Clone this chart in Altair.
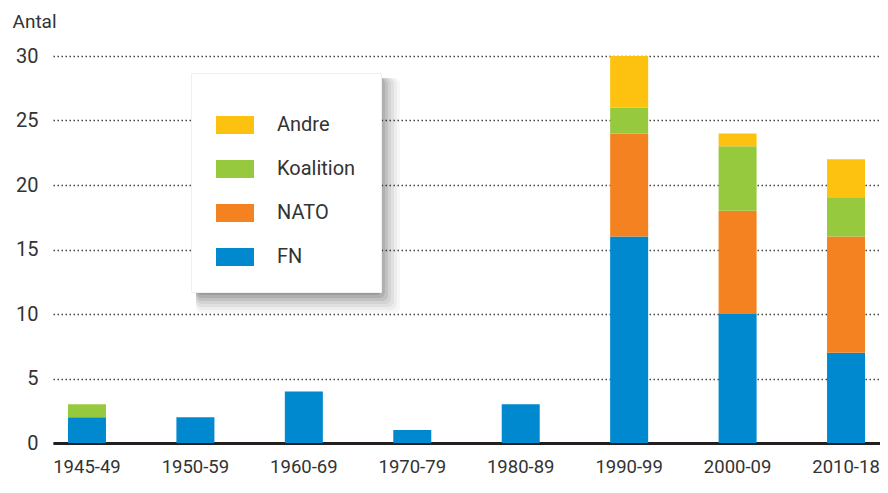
import altair as alt
import pandas as pd

periods = ["1945-49", "1950-59", "1960-69", "1970-79", "1980-89", "1990-99", "2000-09", "2010-18"]
fn = [2, 2, 4, 1, 3, 16, 10, 7]
nato = [0, 0, 0, 0, 0, 8, 8, 9]
koalition = [1, 0, 0, 0, 0, 2, 5, 3]
andre = [0, 0, 0, 0, 0, 4, 1, 3]

series_names = ["FN", "NATO", "Koalition", "Andre"]
series_values = [fn, nato, koalition, andre]
legend_order = ["Andre", "Koalition", "NATO", "FN"]
colors = ["#FDC20F", "#96C93D", "#F58220", "#0089CF"]

rows = []
for si, (name, vals) in enumerate(zip(series_names, series_values)):
    for p, v in zip(periods, vals):
        if v > 0:
            rows.append({"Periode": p, "Type": name, "Antal": v, "o": si})
df = pd.DataFrame(rows)

FONT = "Roboto"
TXT = "#333333"

bars = alt.Chart(df).mark_bar().encode(
    x=alt.X("Periode:N", sort=periods, title=None,
            scale=alt.Scale(paddingInner=0.6495, paddingOuter=0.138, align=0.5),
            axis=alt.Axis(labelAngle=0, labelFontSize=18.5, labelColor=TXT,
                          labelPadding=14, ticks=False, domainColor="#231f20",
                          domainWidth=3, labelFont=FONT)),
    y=alt.Y("Antal:Q", stack="zero",
            scale=alt.Scale(domain=[0, 30], nice=False),
            axis=alt.Axis(values=[0, 5, 10, 15, 20, 25, 30], title="Antal",
                          titleAngle=0, titleAlign="left", titleBaseline="alphabetic",
                          titleX=-41, titleY=-29, titleFontSize=19, titleFont=FONT,
                          titleFontWeight="normal", titleColor=TXT,
                          labelFontSize=20, labelFont=FONT, labelColor=TXT,
                          labelPadding=15, ticks=False, domain=False,
                          gridDash=[1.5, 2.5], gridColor="#444444", gridWidth=1.3)),
    color=alt.Color("Type:N",
                    scale=alt.Scale(domain=legend_order, range=colors),
                    legend=alt.Legend(title=" ", titleFontSize=1, titlePadding=7,
                                      orient="none", legendX=138, legendY=17,
                                      fillColor="white", strokeColor="#f0f0f0", padding=25,
                                      symbolType="M-1,-0.47H1V0.47H-1Z", symbolSize=1444,
                                      symbolStrokeWidth=0, symbolOpacity=1,
                                      labelFontSize=20, labelFont=FONT, labelColor=TXT,
                                      labelOffset=23, rowPadding=15, labelLimit=200)),
    order=alt.Order("o:Q", sort="ascending"),
)

shadow_layers = []
for k, op in [(2, 0.10), (5, 0.09), (8, 0.08), (11, 0.06), (14, 0.05), (17, 0.04), (20, 0.03)]:
    shadow_layers.append(
        alt.Chart(pd.DataFrame({"a": [0]})).mark_rect(color="#000000", opacity=op, cornerRadius=6).encode(
            x=alt.value(138 + 5), x2=alt.value(138 + 189 + k),
            y=alt.value(17 + 5), y2=alt.value(17 + 220 + k))
    )

chart = alt.layer(*shadow_layers, bars).properties(
    width=827, height=387,
    padding={"left": 4, "top": 4, "right": 0, "bottom": 0},
).configure_view(stroke=None).configure_axis(grid=True).configure_axisX(grid=False)

chart.save("out.html", embed_options={"renderer": "svg", "actions": False})
